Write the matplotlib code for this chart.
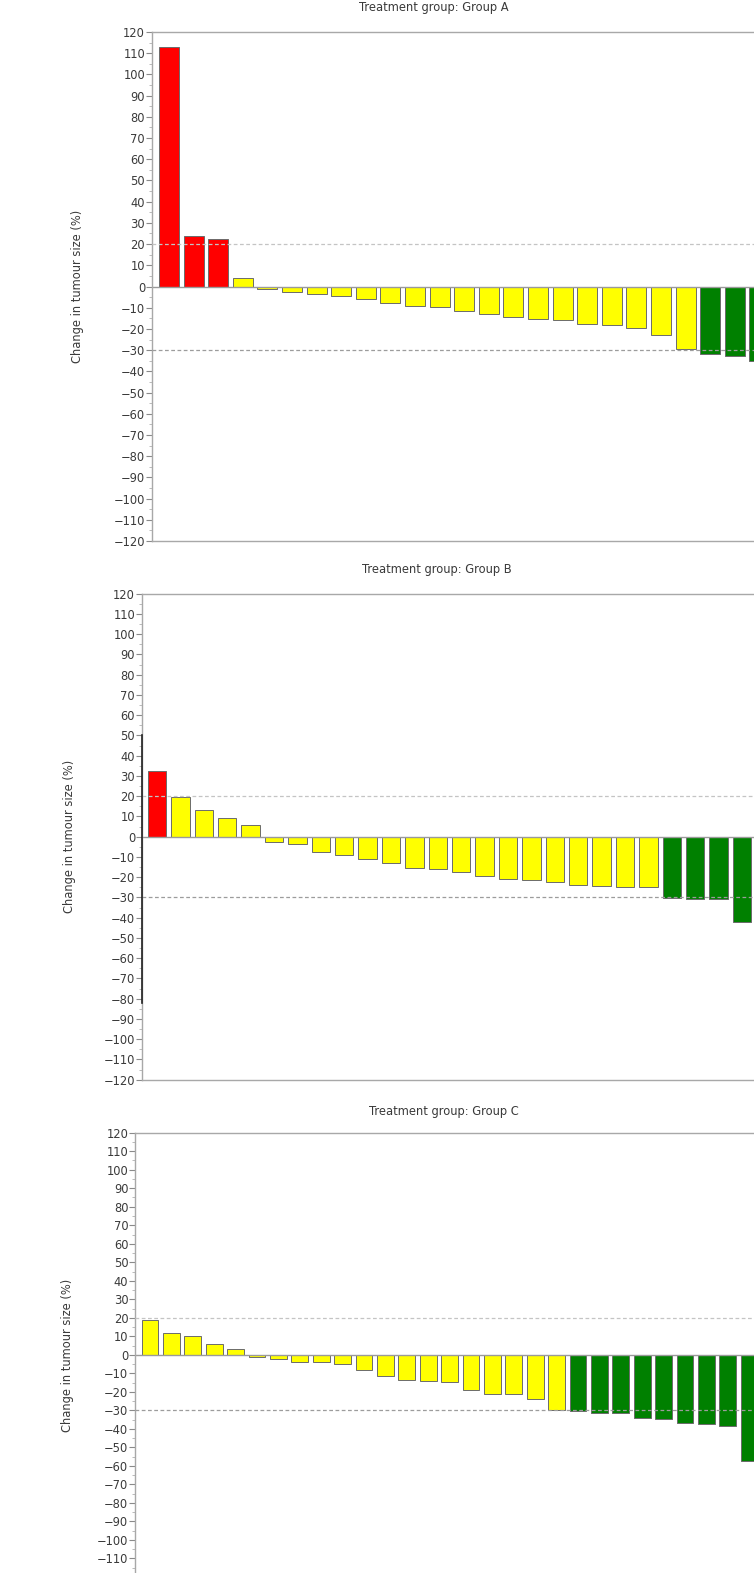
import matplotlib
matplotlib.use("Agg")
import matplotlib.pyplot as plt
from matplotlib.ticker import MultipleLocator

# Best percentage change in tumour size per patient, sorted (waterfall order)
group_names = ["Group A", "Group B", "Group C"]
change_a = [113.1, 23.9, 22.3, 4.2, -1.3, -2.8, -3.6, -4.7, -6.0, -7.9, -9.1,
            -9.9, -11.6, -13.2, -14.3, -15.3, -15.7, -17.5, -18.1, -19.7,
            -23.0, -29.6, -31.8, -32.7, -35.1]
change_b = [32.4, 19.8, 13.0, 9.2, 5.6, -2.8, -3.5, -7.7, -8.9, -11.2, -13.2,
            -15.6, -16.1, -17.3, -19.6, -20.7, -21.2, -22.4, -23.7, -24.4,
            -25.0, -25.0, -30.2, -30.8, -30.9, -42.3]
change_c = [18.9, 11.9, 10.4, 6.1, 2.9, -1.1, -2.3, -4.1, -4.1, -4.9, -8.3,
            -11.5, -13.7, -14.3, -14.5, -19.0, -21.2, -21.2, -24.0, -29.8,
            -30.6, -31.3, -31.5, -34.2, -34.9, -36.7, -37.6, -38.7, -57.5]

progression_cut = 20
response_cut = -30

W, H = 754, 1573
fig = plt.figure(figsize=(W / 100, H / 100), dpi=100)

TEXT = "#3a3a3a"
AXIS = "#a8a8a8"
FS = 8.3

# panel geometry in pixels: left edge, top, bottom, first bar centre, bar pitch, bar width
panels = [
    dict(data=change_a, left=152, top=32, bottom=541, c0=169.0, pitch=24.6, bw=0.81,
         title_x=434, title_y=7, lab_x=78),
    dict(data=change_b, left=142, top=593.7, bottom=1079.7, c0=157.0, pitch=23.4, bw=0.78,
         title_x=437, title_y=570, lab_x=70, dark_spine=(50, -82)),
    dict(data=change_c, left=135.3, top=1132.7, bottom=1577, c0=150.0, pitch=21.4, bw=0.79,
         title_x=444, title_y=1111, lab_x=68),
]

right_px = 760


def bar_colour(v):
    if v > progression_cut:
        return "#ff0000"
    if v <= response_cut:
        return "#008000"
    return "#ffff00"


for name, p in zip(group_names, panels):
    vals = p["data"]
    rect = [p["left"] / W, 1 - p["bottom"] / H,
            (right_px - p["left"]) / W, (p["bottom"] - p["top"]) / H]
    ax = fig.add_axes(rect)
    x0 = (p["left"] - p["c0"]) / p["pitch"]
    x1 = x0 + (right_px - p["left"]) / p["pitch"]
    ax.set_xlim(x0, x1)
    ax.set_ylim(-120, 120)

    xs = list(range(len(vals)))
    ax.bar(xs, vals, width=p["bw"], color=[bar_colour(v) for v in vals],
           edgecolor="#6b6b6b", linewidth=0.7, zorder=2)

    ax.axhline(0, color="#9a9a9a", linewidth=1.0, zorder=2.5)
    ax.axhline(progression_cut, color="#c4c4c4", linewidth=0.9,
               dashes=(3, 2), zorder=3)
    ax.axhline(response_cut, color="#9c9c9c", linewidth=0.9,
               dashes=(3, 2), zorder=3)

    for side in ("left", "top", "bottom", "right"):
        ax.spines[side].set_color(AXIS)
        ax.spines[side].set_linewidth(1.0)

    ax.yaxis.set_major_locator(MultipleLocator(10))
    ax.yaxis.set_minor_locator(MultipleLocator(5))
    ax.tick_params(axis="y", which="major", length=4, width=0.8, color="#8a8a8a",
                   labelsize=FS, labelcolor=TEXT, pad=1)
    ax.tick_params(axis="y", which="minor", length=2, width=0.6, color="#b0b0b0")
    ax.set_xticks([])

    if "dark_spine" in p:
        y_hi, y_lo = p["dark_spine"]
        ax.plot([x0, x0], [y_hi, y_lo], color="#222222", linewidth=1.2,
                clip_on=False, zorder=4)

    fig.text(p["title_x"] / W, 1 - p["title_y"] / H,
             "Treatment group: " + name, ha="center", va="center",
             fontsize=FS, color=TEXT)

    y_mid = (p["top"] + p["bottom"]) / 2 if p["bottom"] < H else 1355
    fig.text(p["lab_x"] / W, 1 - y_mid / H, "Change in tumour size (%)",
             rotation=90, ha="center", va="center", fontsize=FS, color=TEXT)

fig.savefig("out.png", dpi=100)
